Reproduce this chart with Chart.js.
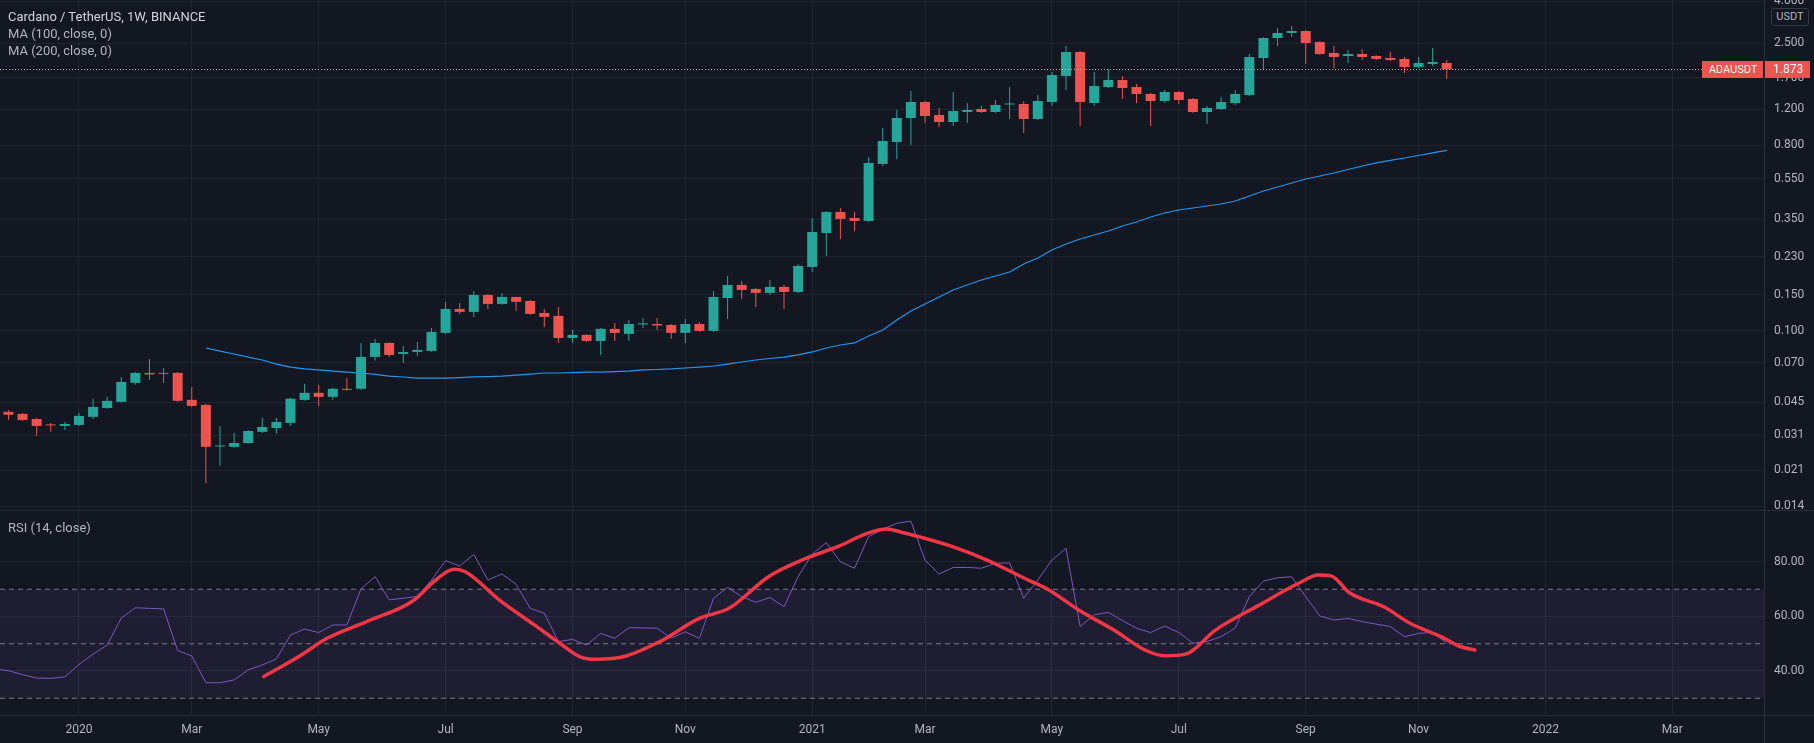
<!DOCTYPE html>
<html>
<head>
<meta charset="utf-8">
<title>ADAUSDT 1W</title>
<script src="https://cdn.jsdelivr.net/npm/chart.js@4.4.1/dist/chart.umd.min.js"></script>
<style>
  html, body { margin: 0; padding: 0; background: #131722; overflow: hidden; }
  #wrap { position: relative; width: 1814px; height: 743px; font-family: Roboto, "Open Sans", sans-serif; }
  canvas { position: absolute; left: 0; }
  #priceCanvas { top: 0; }
  #rsiCanvas { top: 510px; }
  .legend { position: absolute; left: 8px; font-size: 13px; line-height: 17px; color: #b2b5be; white-space: nowrap; }
  .legend .title { color: #d1d4dc; }
  .line-h { position: absolute; left: 0; width: 1814px; height: 1px; background: #2a2e39; }
  .line-v { position: absolute; top: 0; width: 1px; height: 743px; background: #2a2e39; }
  #unit { position: absolute; left: 1771px; top: 8px; width: 36px; height: 16px; border: 1px solid #363a45;
          border-radius: 3px; background: #131722; color: #b2b5be; font-size: 11px; line-height: 16px; text-align: center; }
</style>
</head>
<body>
<div id="wrap">
  <canvas id="priceCanvas" width="1814" height="510"></canvas>
  <canvas id="rsiCanvas" width="1814" height="233"></canvas>
  <div class="line-h" style="top:510px"></div>
  <div class="line-h" style="top:715px"></div>
  <div class="line-v" style="left:1764px"></div>
  <div id="unit">USDT</div>
  <div class="legend" style="top:8px">
    <div class="title">Cardano / TetherUS, 1W, BINANCE</div>
    <div>MA (100, close, 0)</div>
    <div>MA (200, close, 0)</div>
  </div>
  <div class="legend" style="top:519px">RSI (14, close)</div>
</div>
<script>
// weekly bars, week 0 = first week of Jan 2020
const firstWeek = -6;
const viewFirstWeek = -5.6;
const viewLastWeek = 119.5;
const symbolName = 'ADAUSDT';

const opens = [
  0.0422, 0.0404, 0.0395, 0.0373, 0.0351, 0.0345, 0.0349, 0.0382, 0.0422, 0.0452,
  0.0559, 0.0625, 0.0618, 0.0625, 0.0462, 0.0437, 0.0274, 0.0273, 0.0285, 0.0323,
  0.0337, 0.0357, 0.0462, 0.0500, 0.0478, 0.0523, 0.0523, 0.0747, 0.0874, 0.0773,
  0.0790, 0.0799, 0.0978, 0.1279, 0.1237, 0.1496, 0.1353, 0.1463, 0.1399, 0.1223,
  0.1183, 0.0924, 0.0956, 0.0894, 0.1023, 0.0967, 0.1075, 0.1081, 0.1069, 0.0978,
  0.1081, 0.1000, 0.1446, 0.1674, 0.1600, 0.1530, 0.1637, 0.1547, 0.2047, 0.2995,
  0.3789, 0.3543, 0.3425, 0.6485, 0.8295, 1.0852, 1.2981, 1.1223, 1.0377, 1.1606,
  1.2003, 1.1606, 1.2623, 1.2694, 1.0731, 1.2981, 1.7373, 2.2725, 1.2837, 1.5358,
  1.6610, 1.5358, 1.4200, 1.3127, 1.4521, 1.3427, 1.1606, 1.2003, 1.2837, 1.4042,
  2.1249, 2.6580, 2.8110, 2.8746, 2.5415, 2.2472, 2.1730, 2.2222, 2.1730, 2.1249,
  2.1013, 1.9214, 1.9870, 2.0094
];
const highs = [
  0.0437, 0.0413, 0.0399, 0.0378, 0.0357, 0.0361, 0.0399, 0.0468, 0.0478, 0.0597,
  0.0632, 0.0731, 0.0661, 0.0632, 0.0534, 0.0442, 0.0345, 0.0319, 0.0330, 0.0378,
  0.0378, 0.0473, 0.0553, 0.0547, 0.0529, 0.0591, 0.0874, 0.0914, 0.0884, 0.0845,
  0.0884, 0.1034, 0.1384, 0.1368, 0.1564, 0.1513, 0.1530, 0.1468, 0.1415, 0.1279,
  0.1308, 0.1011, 0.0967, 0.1034, 0.1094, 0.1131, 0.1157, 0.1157, 0.1081, 0.1144,
  0.1106, 0.1564, 0.1850, 0.1750, 0.1618, 0.1770, 0.1674, 0.2117, 0.3543, 0.3832,
  0.3963, 0.3789, 0.7013, 0.9703, 1.1869, 1.4685, 1.3127, 1.2138, 1.4521, 1.2837,
  1.2413, 1.3275, 1.5358, 1.3127, 1.4042, 1.8169, 2.4302, 2.2980, 1.8169, 1.8788,
  1.7373, 1.5883, 1.4359, 1.4850, 1.4685, 1.3578, 1.2413, 1.3731, 1.4850, 2.2222,
  2.6879, 2.9725, 3.0398, 2.9070, 2.5700, 2.4302, 2.3240, 2.3500, 2.1975, 2.2725,
  2.1488, 2.1488, 2.3764, 2.0780
];
const lows = [
  0.0395, 0.0369, 0.0365, 0.0309, 0.0323, 0.0330, 0.0345, 0.0373, 0.0418, 0.0447,
  0.0547, 0.0578, 0.0559, 0.0452, 0.0427, 0.0181, 0.0221, 0.0270, 0.0282, 0.0319,
  0.0316, 0.0345, 0.0457, 0.0432, 0.0462, 0.0511, 0.0517, 0.0715, 0.0747, 0.0699,
  0.0756, 0.0790, 0.0967, 0.1210, 0.1170, 0.1279, 0.1338, 0.1251, 0.1196, 0.1046,
  0.0874, 0.0874, 0.0884, 0.0764, 0.0894, 0.0894, 0.1034, 0.1011, 0.0914, 0.0874,
  0.0989, 0.0989, 0.1144, 0.1430, 0.1308, 0.1496, 0.1279, 0.1530, 0.1935, 0.2315,
  0.2800, 0.3063, 0.3387, 0.6342, 0.6858, 0.8021, 1.0262, 0.9812, 0.9923, 1.0262,
  1.1477, 1.1477, 1.0731, 0.9175, 1.0612, 1.2413, 1.4850, 0.9923, 1.2413, 1.5187,
  1.3427, 1.2837, 0.9923, 1.2837, 1.2694, 1.1477, 1.0147, 1.1869, 1.2552, 1.3885,
  1.8580, 2.4302, 2.6879, 1.9870, 2.1975, 1.9000, 2.0094, 2.0780, 2.0780, 2.0548,
  1.7966, 1.9000, 1.9430, 1.6800
];
const closes = [
  0.0404, 0.0391, 0.0369, 0.0345, 0.0347, 0.0353, 0.0386, 0.0427, 0.0457, 0.0565,
  0.0625, 0.0614, 0.0625, 0.0457, 0.0432, 0.0273, 0.0277, 0.0285, 0.0326, 0.0341,
  0.0361, 0.0468, 0.0500, 0.0478, 0.0523, 0.0517, 0.0747, 0.0874, 0.0764, 0.0790,
  0.0808, 0.0989, 0.1279, 0.1237, 0.1496, 0.1353, 0.1463, 0.1384, 0.1210, 0.1170,
  0.0924, 0.0956, 0.0894, 0.1023, 0.0978, 0.1081, 0.1088, 0.1063, 0.0978, 0.1081,
  0.1000, 0.1463, 0.1674, 0.1582, 0.1530, 0.1637, 0.1547, 0.2070, 0.3028, 0.3789,
  0.3504, 0.3425, 0.6558, 0.8389, 1.0852, 1.2981, 1.1098, 1.0377, 1.1737, 1.1869,
  1.1606, 1.2552, 1.2766, 1.0731, 1.3127, 1.7569, 2.2725, 1.2981, 1.5531, 1.6610,
  1.5187, 1.4200, 1.3127, 1.4521, 1.3275, 1.1606, 1.2138, 1.2981, 1.4200, 2.1488,
  2.6580, 2.8110, 2.8746, 2.5132, 2.2222, 2.1488, 2.2222, 2.1488, 2.1013, 2.0780,
  1.9214, 2.0094, 2.0320, 1.8730
];

// MA(100) starts at week 9
const maFirstWeek = 9;
const ma100 = [
  0.0826, 0.0798, 0.0772, 0.0746, 0.0722, 0.0690, 0.0667, 0.0653, 0.0646, 0.0638,
  0.0631, 0.0624, 0.0614, 0.0603, 0.0597, 0.0590, 0.0590, 0.0590, 0.0593, 0.0597,
  0.0600, 0.0603, 0.0610, 0.0617, 0.0624, 0.0624, 0.0627, 0.0631, 0.0631, 0.0634,
  0.0638, 0.0646, 0.0649, 0.0653, 0.0660, 0.0667, 0.0675, 0.0690, 0.0706, 0.0722,
  0.0734, 0.0746, 0.0764, 0.0790, 0.0826, 0.0854, 0.0874, 0.0944, 0.1011, 0.1131,
  0.1250, 0.1352, 0.1462, 0.1582, 0.1672, 0.1769, 0.1849, 0.1934, 0.2116, 0.2263,
  0.2474, 0.2647, 0.2800, 0.2927, 0.3061, 0.3237, 0.3385, 0.3581, 0.3746, 0.3872,
  0.3961, 0.4050, 0.4143, 0.4283, 0.4529, 0.4790, 0.5010, 0.5242, 0.5482, 0.5667,
  0.5862, 0.6097, 0.6341, 0.6558, 0.6744, 0.6935, 0.7130, 0.7335, 0.7543
];

const rsi = [
  40.8, 40.1, 38.7, 37.4, 37.3, 37.8, 42.4, 46.2, 49.5, 59.4,
  63.2, 63.0, 62.8, 47.5, 45.5, 35.7, 35.7, 36.7, 40.4, 42.2,
  44.4, 53.2, 55.4, 54.1, 56.9, 56.9, 70.1, 74.6, 66.1, 66.7,
  67.3, 73.4, 80.5, 78.5, 82.8, 73.4, 75.6, 71.8, 63.0, 61.2,
  50.8, 51.6, 49.5, 53.8, 52.0, 55.9, 55.8, 55.7, 52.0, 54.4,
  52.0, 66.7, 70.7, 67.3, 65.2, 67.0, 63.6, 74.6, 82.9, 87.1,
  80.1, 77.7, 89.3, 92.0, 94.2, 95.0, 80.7, 75.6, 78.0, 78.0,
  77.7, 79.5, 79.7, 66.7, 73.4, 80.7, 85.0, 56.3, 60.6, 61.5,
  58.5, 55.7, 54.1, 56.5, 54.1, 50.2, 50.8, 52.6, 55.7, 67.3,
  73.0, 74.2, 74.6, 67.3, 60.2, 58.7, 59.3, 58.1, 57.2, 56.3,
  52.6, 53.8, 54.2, 50.2
];

// hand drawn red curve over the RSI
const drawnWeeks = [13.1, 15.6, 17.6, 20.4, 23.7, 25.3, 26.6, 27.4, 29.8, 32.3, 34.1, 35.5, 36.7, 38.8,
  41.2, 44.0, 46.1, 48.9, 51.4, 53.8, 55.9, 57.3, 58.2, 61.8, 64.4, 67.3, 68.7, 70.9, 73.4, 75.6,
  77.0, 78.5, 80.6, 83.6, 86.5, 87.9, 88.8, 90.1, 92.6, 94.4, 96.6, 98.0, 99.0];
const drawnValues = [37.9, 45.3, 52.0, 58.1, 65.8, 73.4, 77.3, 76.4, 66.1, 56.9, 50.2, 45.3, 44.3, 45.5,
  50.8, 59.3, 63.0, 74.6, 81.0, 85.6, 90.5, 92.1, 91.1, 85.9, 80.7, 73.4, 70.0, 62.4, 55.0, 47.7,
  45.6, 46.2, 55.0, 63.9, 72.2, 75.2, 74.9, 68.7, 63.4, 57.5, 52.6, 48.9, 47.7];

const priceTicks = [4.0, 2.5, 1.7, 1.2, 0.8, 0.55, 0.35, 0.23, 0.15, 0.1, 0.07, 0.045, 0.031, 0.021, 0.014];
const priceMin = 0.01346;
const priceMax = 4.067;
const rsiTicks = [40, 60, 80];
const rsiBands = [70, 50, 30];
const rsiMin = 23.85;
const rsiMax = 99.08;
const monthTickWeeks = [0, 8, 17, 26, 35, 43, 52, 60, 69, 78, 87, 95, 104, 113];
const monthTickLabels = ['2020', 'Mar', 'May', 'Jul', 'Sep', 'Nov', '2021', 'Mar', 'May', 'Jul', 'Sep', 'Nov', '2022', 'Mar'];

const upColor = '#26a69a';
const downColor = '#ef5350';
const gridColor = 'rgba(42, 46, 57, 0.6)';
const textColor = '#b2b5be';

Chart.defaults.font.family = 'Roboto, "Open Sans", sans-serif';
Chart.defaults.color = textColor;

const weekOf = k => firstWeek + k;
const candleColors = closes.map((c, k) => (c >= opens[k] ? upColor : downColor));
const bodies = opens.map((o, k) => ({ x: weekOf(k), y: [o, closes[k]] }));
const wicks = lows.map((l, k) => ({ x: weekOf(k), y: [l, highs[k]] }));
const maPoints = ma100.map((v, k) => ({ x: maFirstWeek + k, y: v }));
const rsiPoints = rsi.map((v, k) => ({ x: weekOf(k), y: v }));
const drawnPoints = drawnWeeks.map((w, k) => ({ x: w, y: drawnValues[k] }));

// fixed axis sizes so both panes share one time scale
function fixYAxis(scale) {
  scale.width = 50;
  scale.paddingTop = 0;
  scale.paddingBottom = 0;
}
function setTicks(values) {
  return scale => { scale.ticks = values.map(v => ({ value: v })); };
}

// last price line and tags
const lastPriceTag = {
  id: 'lastPriceTag',
  afterDatasetsDraw(chart) {
    const { ctx, chartArea } = chart;
    const last = closes[closes.length - 1];
    const y = Math.round(chart.scales.y.getPixelForValue(last));
    ctx.save();
    ctx.strokeStyle = 'rgba(236, 190, 192, 0.85)';
    ctx.lineWidth = 1;
    ctx.setLineDash([1, 2]);
    ctx.beginPath();
    ctx.moveTo(chartArea.left, y + 0.5);
    ctx.lineTo(chartArea.right, y + 0.5);
    ctx.stroke();
    ctx.setLineDash([]);
    ctx.fillStyle = downColor;
    ctx.fillRect(chartArea.right - 62, y - 8, 61, 17);
    ctx.fillRect(chartArea.right + 1, y - 8, 45, 17);
    ctx.fillStyle = '#ffffff';
    ctx.textBaseline = 'middle';
    ctx.textAlign = 'center';
    ctx.font = '11px Roboto, sans-serif';
    ctx.fillText(symbolName, chartArea.right - 31, y + 1);
    ctx.textAlign = 'left';
    ctx.font = '12px Roboto, sans-serif';
    ctx.fillText(last.toFixed(3), chartArea.right + 9, y + 1);
    ctx.restore();
  }
};

// Price pane
new Chart(document.getElementById('priceCanvas'), {
  type: 'bar',
  data: {
    datasets: [
      {
        type: 'line',
        data: maPoints,
        borderColor: '#2196f3',
        borderWidth: 1.2,
        pointRadius: 0,
        tension: 0
      },
      {
        data: bodies,
        backgroundColor: candleColors,
        barThickness: 10,
        grouped: false,
        minBarLength: 1,
        inflateAmount: 0
      },
      {
        data: wicks,
        backgroundColor: candleColors,
        barThickness: 1,
        grouped: false,
        minBarLength: 1,
        inflateAmount: 0
      }
    ]
  },
  options: {
    responsive: false,
    devicePixelRatio: 1,
    animation: false,
    events: [],
    layout: { padding: 0 },
    plugins: { legend: { display: false }, tooltip: { enabled: false } },
    scales: {
      x: {
        type: 'linear',
        min: viewFirstWeek,
        max: viewLastWeek,
        offset: false,
        grid: { color: gridColor, drawTicks: false, offset: false },
        border: { display: false },
        ticks: { display: false, autoSkip: false },
        afterBuildTicks: setTicks(monthTickWeeks),
        afterFit: scale => { scale.height = 0; scale.paddingLeft = 0; scale.paddingRight = 0; }
      },
      y: {
        type: 'logarithmic',
        position: 'right',
        min: priceMin,
        max: priceMax,
        grid: { color: gridColor, drawTicks: false },
        border: { display: false },
        ticks: {
          autoSkip: false,
          padding: 10,
          font: { size: 12 },
          color: textColor,
          callback: v => Number(v).toFixed(3)
        },
        afterBuildTicks: setTicks(priceTicks),
        afterFit: fixYAxis
      }
    }
  },
  plugins: [lastPriceTag]
});

// RSI pane
const bandLine = (value, extra) => Object.assign({
  data: [{ x: viewFirstWeek, y: value }, { x: viewLastWeek, y: value }],
  borderColor: '#787b86',
  borderWidth: 1,
  borderDash: [5, 4],
  pointRadius: 0,
  fill: false
}, extra);

new Chart(document.getElementById('rsiCanvas'), {
  type: 'line',
  data: {
    datasets: [
      {
        data: drawnPoints,
        borderColor: '#f23645',
        borderWidth: 3.5,
        pointRadius: 0,
        cubicInterpolationMode: 'monotone',
        borderCapStyle: 'round'
      },
      {
        data: rsiPoints,
        borderColor: '#7e57c2',
        borderWidth: 1,
        pointRadius: 0,
        tension: 0
      },
      bandLine(rsiBands[0]),
      bandLine(rsiBands[1]),
      bandLine(rsiBands[2], { fill: { value: rsiBands[0] }, backgroundColor: 'rgba(126, 87, 194, 0.1)' })
    ]
  },
  options: {
    responsive: false,
    devicePixelRatio: 1,
    animation: false,
    events: [],
    layout: { padding: 0 },
    plugins: { legend: { display: false }, tooltip: { enabled: false } },
    scales: {
      x: {
        type: 'linear',
        min: viewFirstWeek,
        max: viewLastWeek,
        offset: false,
        grid: { color: gridColor, drawTicks: false, offset: false },
        border: { display: false },
        ticks: {
          autoSkip: false,
          maxRotation: 0,
          padding: 8,
          font: { size: 12 },
          color: textColor,
          callback: (v, i) => monthTickLabels[i]
        },
        afterBuildTicks: setTicks(monthTickWeeks),
        afterFit: scale => { scale.height = 28; scale.paddingLeft = 0; scale.paddingRight = 0; }
      },
      y: {
        position: 'right',
        min: rsiMin,
        max: rsiMax,
        grid: { color: gridColor, drawTicks: false },
        border: { display: false },
        ticks: {
          autoSkip: false,
          padding: 10,
          font: { size: 12 },
          color: textColor,
          callback: v => Number(v).toFixed(2)
        },
        afterBuildTicks: setTicks(rsiTicks),
        afterFit: fixYAxis
      }
    }
  }
});
</script>
</body>
</html>
